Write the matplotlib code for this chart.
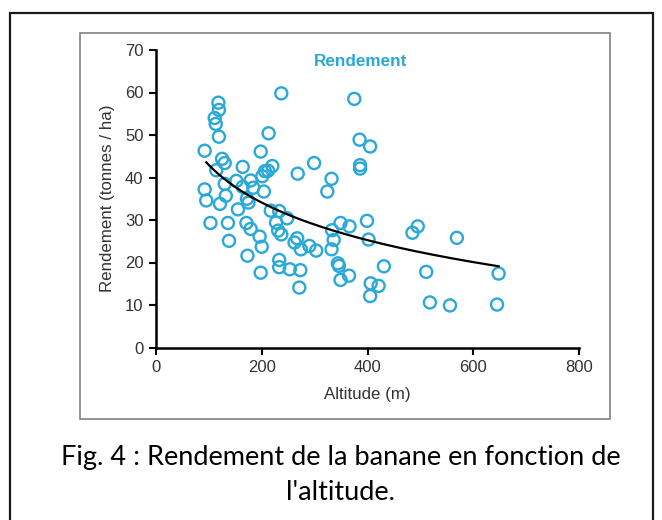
import numpy as np
import matplotlib
matplotlib.use("Agg")
import matplotlib.pyplot as plt
from matplotlib.patches import Rectangle

altitude = [92, 92, 95, 103, 118, 119, 111, 113, 119, 125, 130, 114, 130, 132, 121,
            136, 138, 152, 155, 164, 164, 179, 184, 172, 175, 171, 179, 173, 196, 200,
            198, 198, 201, 206, 212, 220, 213, 204, 217, 233, 227, 231, 237, 248, 237,
            233, 233, 253, 268, 267, 262, 274, 273, 271, 290, 303, 299, 332, 324, 333,
            336, 332, 349, 366, 344, 346, 349, 365, 375, 385, 405, 386, 386, 399, 402,
            406, 405, 421, 431, 485, 495, 511, 518, 556, 569, 645, 648]
rendement = [46.3, 37.2, 34.6, 29.3, 57.6, 55.9, 54.0, 52.6, 49.6, 44.4, 43.4, 41.7, 38.5,
             35.7, 33.8, 29.3, 25.1, 39.2, 32.5, 42.5, 37.8, 39.3, 37.6, 35.0, 34.1, 29.3,
             27.9, 21.6, 26.1, 23.7, 17.6, 46.1, 40.3, 41.5, 41.6, 42.7, 50.4, 36.7, 32.2,
             32.1, 29.4, 27.5, 26.6, 30.4, 59.8, 20.6, 18.9, 18.4, 40.9, 25.7, 24.7, 23.1,
             18.2, 14.1, 23.9, 22.8, 43.4, 39.7, 36.7, 27.6, 25.3, 23.1, 29.3, 28.5, 19.8,
             19.2, 15.9, 16.9, 58.5, 48.9, 47.3, 42.9, 42.1, 29.8, 25.4, 15.1, 12.1, 14.5,
             19.1, 27.0, 28.5, 17.8, 10.6, 9.9, 25.8, 10.1, 17.4]

x_ticks = [0, 200, 400, 600, 800]
y_ticks = [0, 10, 20, 30, 40, 50, 60, 70]

blue = "#2aa8d8"
W, H = 662, 520
fig = plt.figure(figsize=(W / 100, H / 100), dpi=100)

# outer border and chart frame
fig.patches.append(Rectangle((10 / W, -0.05), 643 / W, 1 - 13 / H + 0.05,
                             transform=fig.transFigure, fill=False,
                             edgecolor="#1a1a1a", linewidth=1.6))
fig.patches.append(Rectangle((80 / W, 1 - 419 / H), 530 / W, 386 / H,
                             transform=fig.transFigure, fill=False,
                             edgecolor="#808080", linewidth=1.2))

ax = fig.add_axes([156 / W, 1 - 347.5 / H, 423 / W, 297.5 / H])
ax.scatter(altitude, rendement, s=75, facecolors="none", edgecolors=blue,
           linewidths=1.7, zorder=3)

xa = np.array(altitude, dtype=float)
ya = np.array(rendement, dtype=float)
b, a = np.polyfit(np.log(xa), ya, 1)
xf = np.linspace(95, xa.max(), 200)
ax.plot(xf, a + b * np.log(xf), color="black", linewidth=1.6, zorder=4)

ax.set_xlim(0, 800)
ax.set_ylim(0, 70)
ax.set_xticks(x_ticks)
ax.set_yticks(y_ticks)
for s in ["top", "right"]:
    ax.spines[s].set_visible(False)
for s in ["left", "bottom"]:
    ax.spines[s].set_linewidth(1.8)
ax.tick_params(direction="out", length=5, width=1.5, labelsize=12,
               labelcolor="#333333", pad=4)
ax.set_xlabel("Altitude (m)", fontsize=12.2, color="#333333", labelpad=9,
              family="Liberation Sans")
ax.set_ylabel("Rendement (tonnes / ha)", fontsize=12.2, color="#333333",
              labelpad=7, family="Liberation Sans")
for lab in ax.get_xticklabels() + ax.get_yticklabels():
    lab.set_family("Liberation Sans")
ax.text(0.484, 0.96, "Rendement", transform=ax.transAxes, ha="center",
        va="center", color=blue, fontsize=12.3, fontweight="bold",
        family="Liberation Sans")

fig.text(341 / W, 1 - 457 / H, "Fig. 4 : Rendement de la banane en fonction de",
         ha="center", va="center", fontsize=19.5, family="Lato")
fig.text(341 / W, 1 - 493 / H, "l'altitude.", ha="center", va="center",
         fontsize=19.5, family="Lato")

fig.savefig("out.png", dpi=100)
